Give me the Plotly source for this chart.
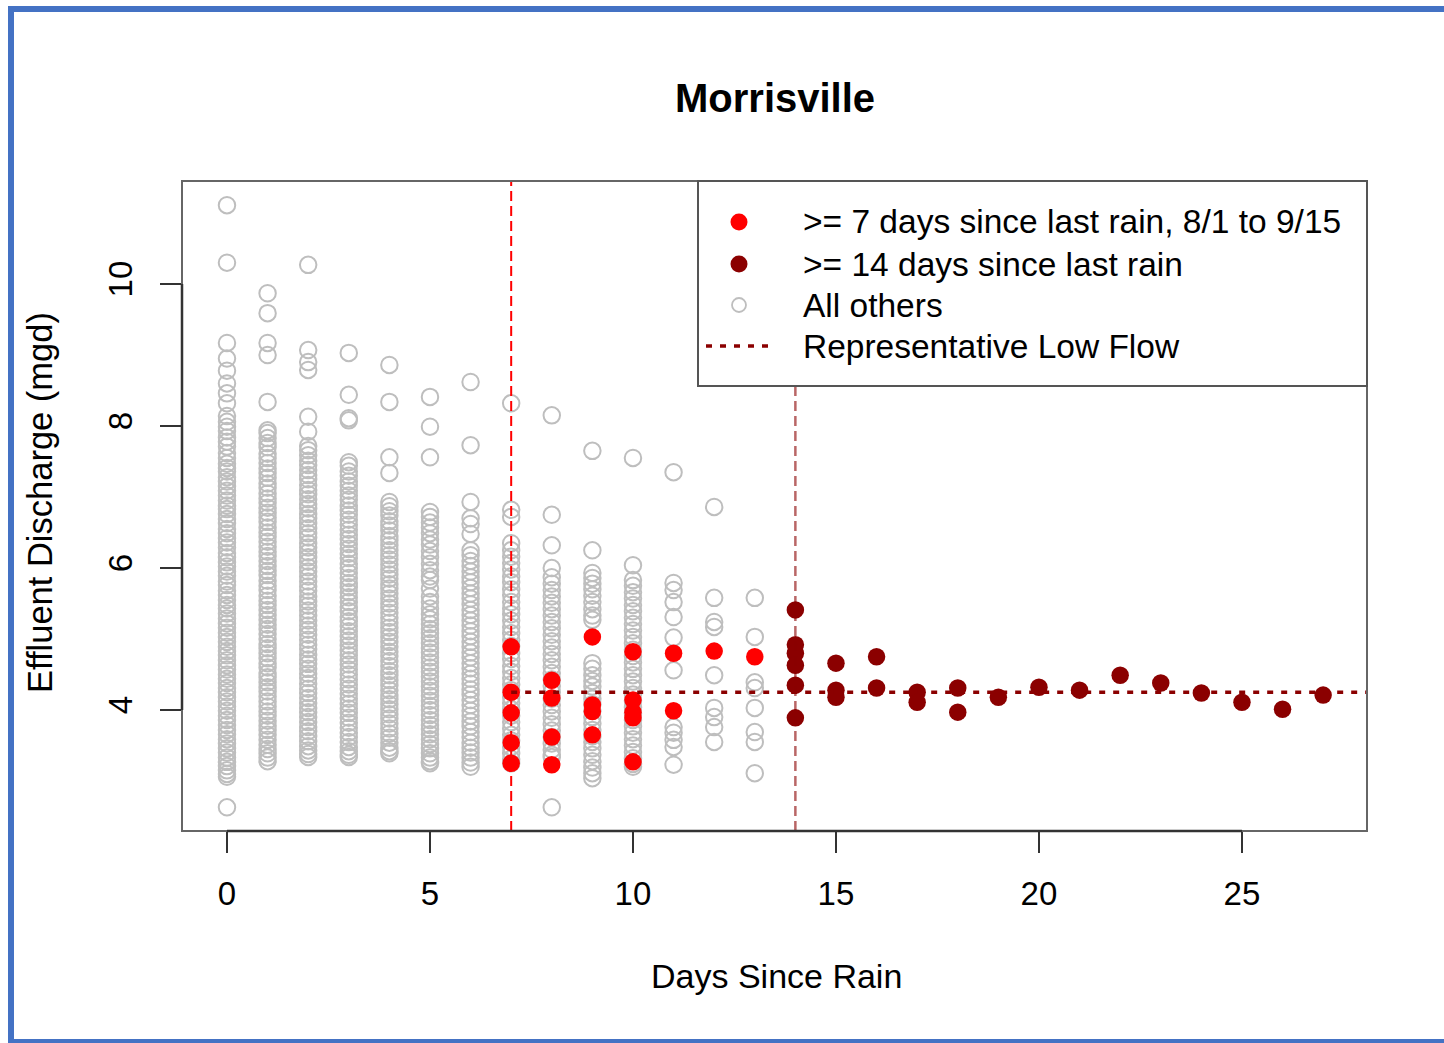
import plotly.graph_objects as go

# ---- data: effluent discharge (mgd) by days since last rain ----
# all other days (open grey circles), one list per day-since-rain value
others_d0 = [11.11, 10.30, 9.17, 8.95, 8.78, 8.60, 8.46, 8.32, 8.14, 8.06, 7.99, 7.93, 7.84, 7.78,
             7.71, 7.62, 7.55, 7.47, 7.41, 7.36, 7.28, 7.22, 7.15, 7.09, 7.02, 6.95, 6.88, 6.83,
             6.76, 6.69, 6.63, 6.55, 6.49, 6.42, 6.36, 6.29, 6.21, 6.15, 6.08, 6.02, 5.95, 5.89,
             5.81, 5.76, 5.68, 5.62, 5.55, 5.48, 5.43, 5.36, 5.29, 5.22, 5.16, 5.09, 5.03, 4.96,
             4.89, 4.83, 4.77, 4.70, 4.63, 4.57, 4.50, 4.44, 4.38, 4.31, 4.25, 4.18, 4.12, 4.05,
             3.99, 3.92, 3.86, 3.79, 3.72, 3.66, 3.59, 3.53, 3.46, 3.40, 3.33, 3.27, 3.21, 3.15,
             3.10, 3.06, 2.63]
others_d1 = [9.87, 9.59, 9.17, 9.00, 8.34, 7.94, 7.90, 7.83, 7.76, 7.70, 7.61, 7.55, 7.48, 7.40,
             7.34, 7.27, 7.19, 7.13, 7.05, 6.98, 6.92, 6.85, 6.78, 6.71, 6.65, 6.57, 6.50, 6.44,
             6.37, 6.30, 6.23, 6.17, 6.10, 6.03, 5.96, 5.90, 5.82, 5.75, 5.69, 5.61, 5.54, 5.48,
             5.41, 5.34, 5.27, 5.20, 5.14, 5.07, 5.00, 4.93, 4.87, 4.80, 4.73, 4.66, 4.60, 4.52,
             4.46, 4.39, 4.32, 4.26, 4.19, 4.12, 4.05, 3.98, 3.92, 3.85, 3.78, 3.72, 3.65, 3.58,
             3.51, 3.45, 3.39, 3.33, 3.28]
others_d2 = [10.27, 9.07, 8.90, 8.79, 8.13, 7.92, 7.72, 7.66, 7.59, 7.51, 7.45, 7.38, 7.31, 7.25,
             7.17, 7.10, 7.04, 6.97, 6.90, 6.84, 6.76, 6.70, 6.63, 6.56, 6.49, 6.43, 6.35, 6.29,
             6.22, 6.15, 6.09, 6.01, 5.95, 5.88, 5.81, 5.74, 5.68, 5.60, 5.53, 5.47, 5.40, 5.33,
             5.26, 5.19, 5.13, 5.06, 4.99, 4.92, 4.86, 4.78, 4.71, 4.65, 4.58, 4.51, 4.45, 4.37,
             4.30, 4.24, 4.17, 4.10, 4.03, 3.97, 3.90, 3.83, 3.76, 3.70, 3.63, 3.56, 3.49, 3.43,
             3.38, 3.34]
others_d3 = [9.03, 8.44, 8.11, 8.08, 7.49, 7.44, 7.36, 7.30, 7.22, 7.16, 7.09, 7.02, 6.96, 6.88,
             6.81, 6.75, 6.68, 6.61, 6.54, 6.47, 6.41, 6.34, 6.27, 6.20, 6.14, 6.06, 6.00, 5.93,
             5.86, 5.79, 5.73, 5.66, 5.59, 5.52, 5.45, 5.39, 5.31, 5.25, 5.18, 5.11, 5.04, 4.98,
             4.91, 4.84, 4.77, 4.70, 4.64, 4.57, 4.50, 4.43, 4.36, 4.30, 4.23, 4.16, 4.09, 4.02,
             3.96, 3.89, 3.82, 3.75, 3.68, 3.62, 3.55, 3.48, 3.42, 3.37, 3.34]
others_d4 = [8.86, 8.34, 7.56, 7.34, 6.93, 6.87, 6.80, 6.74, 6.66, 6.60, 6.53, 6.45, 6.39, 6.32,
             6.25, 6.18, 6.12, 6.05, 5.98, 5.91, 5.85, 5.77, 5.71, 5.64, 5.57, 5.50, 5.44, 5.37,
             5.30, 5.23, 5.16, 5.10, 5.03, 4.96, 4.89, 4.82, 4.76, 4.69, 4.62, 4.55, 4.49, 4.42,
             4.35, 4.28, 4.21, 4.15, 4.08, 4.01, 3.94, 3.88, 3.81, 3.74, 3.67, 3.61, 3.54, 3.47,
             3.42, 3.39]
others_d5 = [8.41, 7.99, 7.56, 6.79, 6.72, 6.64, 6.57, 6.49, 6.40, 6.33, 6.24, 6.15, 6.06, 5.97,
             5.88, 5.83, 5.71, 5.60, 5.52, 5.43, 5.35, 5.28, 5.21, 5.14, 5.08, 5.01, 4.94, 4.87,
             4.81, 4.74, 4.67, 4.60, 4.54, 4.47, 4.40, 4.33, 4.27, 4.20, 4.13, 4.06, 4.00, 3.93,
             3.86, 3.79, 3.73, 3.66, 3.59, 3.52, 3.46, 3.39, 3.33, 3.28, 3.25]
others_d6 = [8.62, 7.73, 6.93, 6.70, 6.62, 6.48, 6.25, 6.18, 6.10, 6.03, 5.95, 5.87, 5.80, 5.72,
             5.64, 5.57, 5.49, 5.41, 5.34, 5.26, 5.19, 5.11, 5.04, 4.96, 4.89, 4.81, 4.74, 4.66,
             4.59, 4.51, 4.44, 4.37, 4.29, 4.22, 4.14, 4.07, 3.99, 3.92, 3.84, 3.77, 3.69, 3.62,
             3.54, 3.47, 3.40, 3.33, 3.26, 3.20]
others_d7 = [8.32, 6.82, 6.72, 6.35, 6.25, 6.16, 6.07, 5.98, 5.88, 5.80, 5.70, 5.62, 5.52, 5.43,
             5.35, 5.26, 5.17, 5.08, 4.99, 4.90, 4.80, 4.72, 4.62, 4.54, 4.45, 4.36, 4.28, 4.18,
             4.10, 4.01, 3.92, 3.83, 3.74, 3.65, 3.57, 3.48, 3.39, 3.31, 3.25]
others_d8 = [8.15, 6.75, 6.32, 6.00, 5.87, 5.78, 5.69, 5.60, 5.51, 5.42, 5.33, 5.24, 5.15, 5.06,
             4.97, 4.88, 4.79, 4.70, 4.61, 4.52, 4.43, 4.34, 4.25, 4.16, 4.07, 3.98, 3.89, 3.80,
             3.71, 3.62, 3.53, 3.44, 3.37, 3.34, 2.63]
others_d9 = [7.65, 6.25, 5.93, 5.86, 5.78, 5.70, 5.61, 5.52, 5.42, 5.33, 5.27, 4.66, 4.58, 4.49,
             4.41, 4.33, 4.24, 4.16, 4.08, 3.99, 3.90, 3.81, 3.72, 3.63, 3.55, 3.46, 3.37, 3.28,
             3.19, 3.11, 3.04]
others_d10 = [7.55, 6.04, 5.83, 5.75, 5.66, 5.57, 5.48, 5.39, 5.30, 5.21, 5.12, 5.03, 4.94, 4.85,
              4.76, 4.67, 4.58, 4.49, 4.40, 4.31, 4.22, 4.13, 4.04, 3.95, 3.86, 3.77, 3.68, 3.59,
              3.50, 3.41, 3.32, 3.24, 3.20]
others_d11 = [7.35, 5.79, 5.69, 5.52, 5.31, 5.02, 4.56, 3.76, 3.68, 3.58, 3.48, 3.23]
others_d12 = [6.86, 5.58, 5.24, 5.17, 4.49, 4.03, 3.90, 3.76, 3.55]
others_d13 = [5.58, 5.03, 4.39, 4.31, 4.03, 3.69, 3.55, 3.11]

# >= 7 days since last rain, 8/1 to 9/15 (solid red)
dry7_days = [7, 7, 7, 7, 7, 8, 8, 8, 8, 9, 9, 9, 9, 10, 10, 10, 10, 10, 11, 11, 12, 13]
dry7_flow = [4.89, 4.25, 3.96, 3.54, 3.25, 4.42, 4.17, 3.62, 3.23, 5.03, 4.07, 3.98, 3.65,
             4.82, 4.14, 3.97, 3.89, 3.27, 4.80, 3.99, 4.83, 4.75]

# >= 14 days since last rain (solid dark red)
dry14_days = [14, 14, 14, 14, 14, 14, 15, 15, 15, 16, 16, 17, 17, 18, 18, 19, 20, 21, 22, 23,
              24, 25, 26, 27]
dry14_flow = [5.41, 4.92, 4.80, 4.63, 4.35, 3.89, 4.66, 4.28, 4.18, 4.75, 4.31, 4.25, 4.11,
              4.31, 3.97, 4.18, 4.32, 4.28, 4.49, 4.38, 4.24, 4.11, 4.01, 4.21]

low_flow = 4.25          # representative low flow (mgd)
cut_7, cut_14 = 7, 14    # dry-period thresholds (days)

x_ticks = [0, 5, 10, 15, 20, 25]
y_ticks = [4, 6, 8, 10]
x_range = [-1.108, 28.08]
y_range = [2.296, 11.451]

legend_labels = [">= 7 days since last rain, 8/1 to 9/15",
                 ">= 14 days since last rain",
                 "All others",
                 "Representative Low Flow"]

# ---- figure ----
W, H = 1444, 1043
ML, MR, MT, MB = 182, 77, 181, 212
PW, PH = W - ML - MR, H - MT - MB
FONT = "Liberation Sans, Arial, Helvetica, sans-serif"
GREY, RED, DARKRED = "#BEBEBE", "#FF0000", "#8B0000"


def px(xp):
    """pixel column -> paper x"""
    return (xp - ML) / PW


def py(yp):
    """pixel row -> paper y"""
    return (H - MB - yp) / PH


others = [others_d0, others_d1, others_d2, others_d3, others_d4, others_d5, others_d6,
          others_d7, others_d8, others_d9, others_d10, others_d11, others_d12, others_d13]
ox, oy = [], []
for day, vals in enumerate(others):
    ox += [day] * len(vals)
    oy += vals

fig = go.Figure()
fig.add_trace(go.Scatter(
    x=ox, y=oy, mode="markers", name=legend_labels[2], hoverinfo="skip",
    marker=dict(symbol="circle-open", size=16.5, color=GREY, line=dict(width=2))))
fig.add_trace(go.Scatter(
    x=dry7_days, y=dry7_flow, mode="markers", name=legend_labels[0], hoverinfo="skip",
    marker=dict(symbol="circle", size=17.5, color=RED, line=dict(width=0))))
fig.add_trace(go.Scatter(
    x=dry14_days, y=dry14_flow, mode="markers", name=legend_labels[1], hoverinfo="skip",
    marker=dict(symbol="circle", size=17.5, color=DARKRED, line=dict(width=0))))

shapes = []
# threshold lines and low-flow reference
shapes.append(dict(type="line", xref="x", yref="paper", x0=cut_7, x1=cut_7, y0=0, y1=1,
                   line=dict(color=RED, width=2, dash="10px,5px")))
shapes.append(dict(type="line", xref="x", yref="paper", x0=cut_14, x1=cut_14, y0=0, y1=1,
                   line=dict(color="rgba(139,0,0,0.6)", width=2.5, dash="10px,5px")))
shapes.append(dict(type="line", xref="x", yref="y", x0=cut_7, x1=x_range[1], y0=low_flow,
                   y1=low_flow, line=dict(color=DARKRED, width=3.5, dash="6px,8px")))
# plot frame and axis lines
shapes.append(dict(type="rect", xref="paper", yref="paper", x0=0, x1=1, y0=0, y1=1,
                   line=dict(color="#666666", width=2)))
shapes.append(dict(type="line", xref="x", yref="paper", x0=x_ticks[0], x1=x_ticks[-1], y0=0,
                   y1=0, line=dict(color="#333333", width=2.5)))
shapes.append(dict(type="line", xref="paper", yref="y", x0=0, x1=0, y0=y_ticks[0],
                   y1=y_ticks[-1], line=dict(color="#333333", width=2.5)))
# legend box
shapes.append(dict(type="rect", xref="paper", yref="paper", x0=px(698), x1=1, y0=py(386), y1=1,
                   fillcolor="white", line=dict(color="#555555", width=2)))
rows = [222, 264, 305, 346]
sym_x = px(739)
for yy, fill in [(rows[0], RED), (rows[1], DARKRED)]:
    shapes.append(dict(type="circle", xref="paper", yref="paper", xsizemode="pixel",
                       ysizemode="pixel", xanchor=sym_x, yanchor=py(yy), x0=-8.5, x1=8.5,
                       y0=-8.5, y1=8.5, fillcolor=fill, line=dict(color=fill, width=0)))
shapes.append(dict(type="circle", xref="paper", yref="paper", xsizemode="pixel",
                   ysizemode="pixel", xanchor=sym_x, yanchor=py(rows[2]), x0=-7, x1=7, y0=-7,
                   y1=7, fillcolor="rgba(0,0,0,0)", line=dict(color=GREY, width=1.8)))
shapes.append(dict(type="line", xref="paper", yref="paper", x0=px(706), x1=px(770),
                   y0=py(rows[3]), y1=py(rows[3]),
                   line=dict(color=DARKRED, width=3.5, dash="6px,8px")))
# outer page border
shapes.append(dict(type="rect", xref="paper", yref="paper", x0=px(11), x1=px(1470),
                   y0=py(1042), y1=py(9), line=dict(color="#4472C4", width=6)))

annotations = []
for yy, label in zip(rows, legend_labels):
    annotations.append(dict(xref="paper", yref="paper", x=px(801), y=py(yy), xanchor="left",
                            yanchor="middle", showarrow=False, text=label,
                            font=dict(family=FONT, size=33.5, color="black")))
annotations.append(dict(xref="paper", yref="paper", x=px(775), y=py(98), xanchor="center",
                        yanchor="middle", showarrow=False, text="<b>Morrisville</b>",
                        font=dict(family=FONT, size=40, color="black")))
annotations.append(dict(xref="paper", yref="paper", x=px(776), y=py(976), xanchor="center",
                        yanchor="middle", showarrow=False, text="Days Since Rain",
                        font=dict(family=FONT, size=34, color="black")))
annotations.append(dict(xref="paper", yref="paper", x=px(40), y=py(503), xanchor="center",
                        yanchor="middle", showarrow=False, text="Effluent Discharge (mgd)",
                        textangle=-90, font=dict(family=FONT, size=34.5, color="black")))

fig.update_layout(
    width=W, height=H, autosize=False,
    margin=dict(l=ML, r=MR, t=MT, b=MB, pad=0),
    paper_bgcolor="white", plot_bgcolor="white",
    showlegend=False, shapes=shapes, annotations=annotations,
    font=dict(family=FONT, color="black"),
    xaxis=dict(range=x_range, tickmode="array", tickvals=x_ticks, ticks="outside",
               ticklen=21, tickwidth=2, tickcolor="#333333", showgrid=False, zeroline=False,
               showline=False, tickfont=dict(family=FONT, size=33, color="black"),
               ticklabelstandoff=12, fixedrange=True),
    yaxis=dict(range=y_range, tickmode="array", tickvals=y_ticks, ticks="outside",
               ticklen=21, tickwidth=2, tickcolor="#333333", showgrid=False, zeroline=False,
               showline=False, tickangle=-90, tickfont=dict(family=FONT, size=33, color="black"),
               ticklabelstandoff=15, fixedrange=True),
)

fig.write_html("out.html", config={"displayModeBar": False})
